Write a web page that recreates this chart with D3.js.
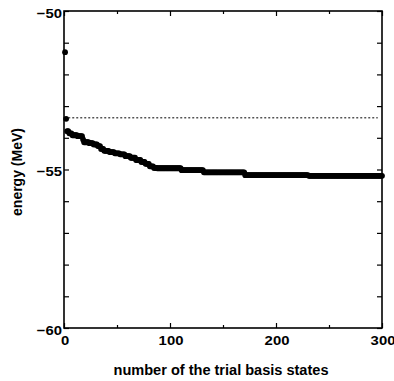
<!DOCTYPE html>
<html>
<head>
<meta charset="utf-8">
<script src="https://cdn.jsdelivr.net/npm/d3@7"></script>
<style>
  body { margin: 0; background: #fff; }
  text { font-family: Arial, "Liberation Sans", Helvetica, sans-serif; font-weight: bold; }
</style>
</head>
<body>
<svg id="chart" width="394" height="381"></svg>
<script>
// energy, as runs of trial-state index: [first n, last n, energy MeV]
const energyRuns = [
  [1, 1, -51.30],
  [2, 2, -53.40],
  [3, 4, -53.79],
  [5, 7, -53.86],
  [8, 12, -53.92],
  [13, 17, -53.95],
  [18, 18, -54.05],
  [19, 23, -54.14],
  [24, 27, -54.17],
  [28, 31, -54.21],
  [32, 34, -54.26],
  [35, 37, -54.35],
  [38, 42, -54.41],
  [43, 47, -54.45],
  [48, 52, -54.49],
  [53, 57, -54.52],
  [58, 62, -54.58],
  [63, 67, -54.63],
  [68, 72, -54.70],
  [73, 76, -54.76],
  [77, 80, -54.82],
  [81, 84, -54.90],
  [85, 87, -54.95],
  [88, 110, -54.96],
  [111, 131, -55.02],
  [132, 170, -55.09],
  [171, 230, -55.18],
  [231, 300, -55.20]
];
const referenceEnergy = -53.37;
const referenceRange = [4, 296];

const xTicks = [0, 50, 100, 150, 200, 250, 300];
const xLabels = [0, 100, 200, 300];
const yTicks = [-60, -59, -58, -57, -56, -55, -54, -53, -52, -51, -50];
const yLabels = [-60, -55, -50];

const points = [];
energyRuns.forEach(([a, b, e]) => {
  for (let n = a; n <= b; n++) points.push({ n: n, e: e });
});

const svg = d3.select("#chart");
const margin = { top: 11, right: 12, bottom: 53, left: 64 };
const width = +svg.attr("width") - margin.left - margin.right;
const height = +svg.attr("height") - margin.top - margin.bottom;

const g = svg.append("g").attr("transform", `translate(${margin.left},${margin.top})`);

const x = d3.scaleLinear().domain([0, 300]).range([0, width]);
const y = d3.scaleLinear().domain([-60, -50]).range([height, 0]);

const fmt = (d) => (d < 0 ? "\u2212" + Math.abs(d) : String(d));

// ticks, pointing inward on all four sides
function tickLen(d) { return xLabels.includes(d) ? 5 : 3; }

const bottomAxis = g.append("g").attr("transform", `translate(0,${height})`)
  .call(d3.axisBottom(x).tickValues(xTicks).tickSize(0).tickFormat(""));
bottomAxis.selectAll(".tick line").attr("y2", (d) => -tickLen(d));

const topAxis = g.append("g")
  .call(d3.axisTop(x).tickValues(xTicks).tickSize(0).tickFormat(""));
topAxis.selectAll(".tick line").attr("y2", (d) => tickLen(d));

g.append("g").call(d3.axisLeft(y).tickValues(yTicks).tickSize(-5).tickFormat(""));
g.append("g").attr("transform", `translate(${width},0)`)
  .call(d3.axisRight(y).tickValues(yTicks).tickSize(-5).tickFormat(""));

g.selectAll(".domain").remove();
g.selectAll(".tick line").attr("stroke", "#000").attr("stroke-width", 1.2);

g.append("rect")
  .attr("width", width).attr("height", height)
  .attr("fill", "none").attr("stroke", "#000").attr("stroke-width", 1.6);

// tick labels (source figure is slightly stretched sideways)
g.append("g").selectAll("text").data(yLabels).join("text")
  .attr("transform", (d) => `translate(-2,${y(d) + 2}) scale(1.1,1)`)
  .attr("text-anchor", "end").attr("dominant-baseline", "central")
  .attr("font-size", 13.5).text(fmt);

g.append("g").selectAll("text").data(xLabels).join("text")
  .attr("transform", (d) => `translate(${x(d) + 1},${height + 17}) scale(1.1,1)`)
  .attr("text-anchor", "middle")
  .attr("font-size", 13.5).text(fmt);

// reference energy
g.append("line")
  .attr("x1", x(referenceRange[0])).attr("x2", x(referenceRange[1]))
  .attr("y1", y(referenceEnergy)).attr("y2", y(referenceEnergy))
  .attr("stroke", "#000").attr("stroke-width", 1).attr("stroke-dasharray", "2,2");

// energy per trial basis state
g.append("g").selectAll("circle").data(points).join("circle")
  .attr("cx", (d) => x(d.n)).attr("cy", (d) => y(d.e))
  .attr("r", 2.9).attr("fill", "#000");

// axis titles
svg.append("text")
  .attr("transform", `translate(${margin.left + 157},375) scale(1.04,1)`)
  .attr("text-anchor", "middle").attr("font-size", 14)
  .text("number of the trial basis states");

svg.append("text")
  .attr("transform", "translate(22,172) rotate(-90)")
  .attr("text-anchor", "middle").attr("font-size", 14)
  .text("energy (MeV)");
</script>
</body>
</html>
